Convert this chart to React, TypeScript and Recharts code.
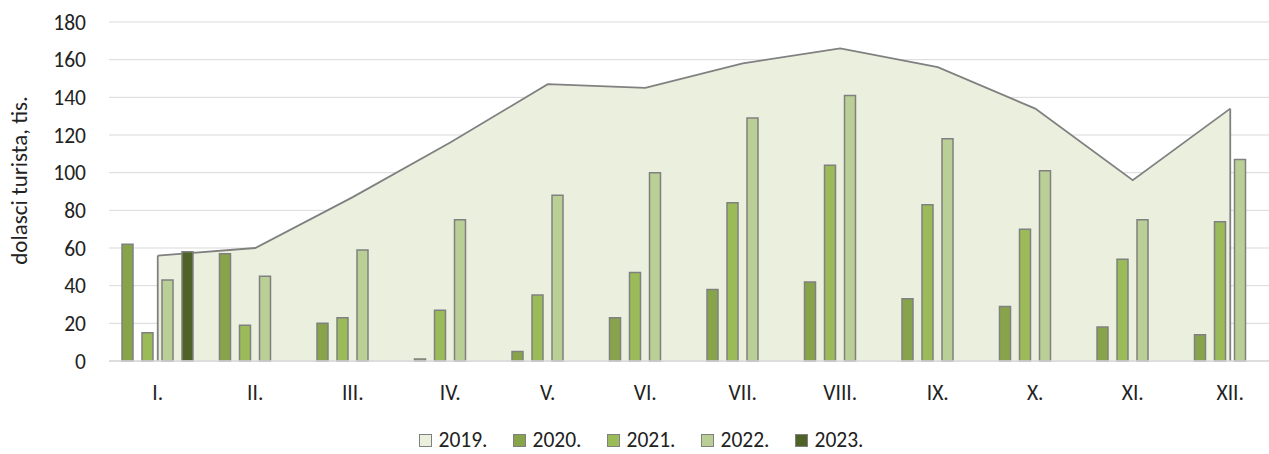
import React from 'react';
import {
  ComposedChart,
  Bar,
  Area,
  XAxis,
  YAxis,
  CartesianGrid,
  Legend,
  ReferenceLine,
} from 'recharts';

const months = ['I.', 'II.', 'III.', 'IV.', 'V.', 'VI.', 'VII.', 'VIII.', 'IX.', 'X.', 'XI.', 'XII.'];
const s2019 = [56, 60, 87, 116, 147, 145, 158, 166, 156, 134, 96, 134];
const s2020 = [62, 57, 20, 1, 5, 23, 38, 42, 33, 29, 18, 14];
const s2021 = [15, 19, 23, 27, 35, 47, 84, 104, 83, 70, 54, 74];
const s2022 = [43, 45, 59, 75, 88, 100, 129, 141, 118, 101, 75, 107];
const s2023: (number | null)[] = [58, null, null, null, null, null, null, null, null, null, null, null];
const yTicks = [0, 20, 40, 60, 80, 100, 120, 140, 160, 180];

const seriesNames = ['2019.', '2020.', '2021.', '2022.', '2023.'];
const colors = ['#EBF0DE', '#88A44B', '#9BBB59', '#BACF96', '#4F6228'];
const edge = '#808080';
const font = 'Calibri, Carlito, Lato, sans-serif';
const fs = 21.5;

const data = months.map((m, i) => ({
  month: m,
  y2019: s2019[i],
  y2020: s2020[i],
  y2021: s2021[i],
  y2022: s2022[i],
  y2023: s2023[i],
}));

const LegendContent = () => (
  <div
    style={{
      display: 'flex',
      justifyContent: 'center',
      alignItems: 'flex-start',
      height: 30,
      paddingLeft: 9,
      paddingTop: 3,
      fontFamily: font,
      fontSize: 21.5,
      color: '#222',
      boxSizing: 'border-box',
    }}
  >
    {seriesNames.map((n, i) => (
      <div
        key={n}
        style={{
          display: 'flex',
          alignItems: 'center',
          height: 26,
          width: 75,
          marginRight: i < seriesNames.length - 1 ? 19 : 0,
        }}
      >
        <span
          style={{
            display: 'block',
            width: 11,
            height: 11,
            background: colors[i],
            border: `1.5px solid ${edge}`,
            marginRight: 7,
            flexShrink: 0,
          }}
        />
        <span style={{ display: 'block', lineHeight: '26px', whiteSpace: 'nowrap' }}>{n}</span>
      </div>
    ))}
  </div>
);

const YLabel = (props: any) => {
  const vb = props.viewBox || {};
  const cx = (vb.x ?? 0) + 19;
  const cy = (vb.y ?? 0) + (vb.height ?? 0) / 2 - 11;
  return (
    <text
      x={cx}
      y={cy}
      transform={`rotate(-90 ${cx} ${cy})`}
      textAnchor="middle"
      dominantBaseline="central"
      fontFamily={font}
      fontSize={23}
      fill="#222"
    >
      dolasci turista, tis.
    </text>
  );
};

export default function App() {
  return (
    <div style={{ position: 'absolute', left: 0, top: 0, width: 1269, height: 454, overflow: 'hidden', background: '#fff' }}>
      <ComposedChart
        width={1280}
        height={454}
        data={data}
        margin={{ top: 22, right: 1, left: 0, bottom: 0 }}
        barSize={11}
        barGap={9}
      >
        <CartesianGrid vertical={false} stroke="#D9D9D9" strokeWidth={1} />
        <XAxis
          dataKey="month"
          height={63}
          tickSize={0}
          tickMargin={24}
          axisLine={{ stroke: '#D9D9D9', strokeWidth: 1.5 }}
          tickLine={false}
          tick={{ fontFamily: font, fontSize: fs, fill: '#222' }}
          interval={0}
        />
        <YAxis
          width={109}
          domain={[0, 180]}
          ticks={yTicks}
          tickSize={0}
          tickMargin={23}
          axisLine={false}
          tickLine={false}
          tick={{ fontFamily: font, fontSize: fs, fill: '#222' }}
          label={<YLabel />}
        />
        <Legend verticalAlign="bottom" content={<LegendContent />} />
        <Area
          type="linear"
          dataKey="y2019"
          name={seriesNames[0]}
          fill={colors[0]}
          fillOpacity={1}
          stroke={edge}
          strokeWidth={1.8}
          isAnimationActive={false}
          dot={false}
          activeDot={false}
        />
        <ReferenceLine
          segment={[{ x: months[0], y: 0 }, { x: months[0], y: s2019[0] }]}
          stroke={edge}
          strokeWidth={1.8}
        />
        <ReferenceLine
          segment={[{ x: months[months.length - 1], y: 0 }, { x: months[months.length - 1], y: s2019[s2019.length - 1] }]}
          stroke={edge}
          strokeWidth={1.8}
        />
        <Bar dataKey="y2020" name={seriesNames[1]} fill={colors[1]} stroke={edge} strokeWidth={1.5} isAnimationActive={false} />
        <Bar dataKey="y2021" name={seriesNames[2]} fill={colors[2]} stroke={edge} strokeWidth={1.5} isAnimationActive={false} />
        <Bar dataKey="y2022" name={seriesNames[3]} fill={colors[3]} stroke={edge} strokeWidth={1.5} isAnimationActive={false} />
        <Bar dataKey="y2023" name={seriesNames[4]} fill={colors[4]} stroke={edge} strokeWidth={1.5} isAnimationActive={false} />
      </ComposedChart>
    </div>
  );
}
